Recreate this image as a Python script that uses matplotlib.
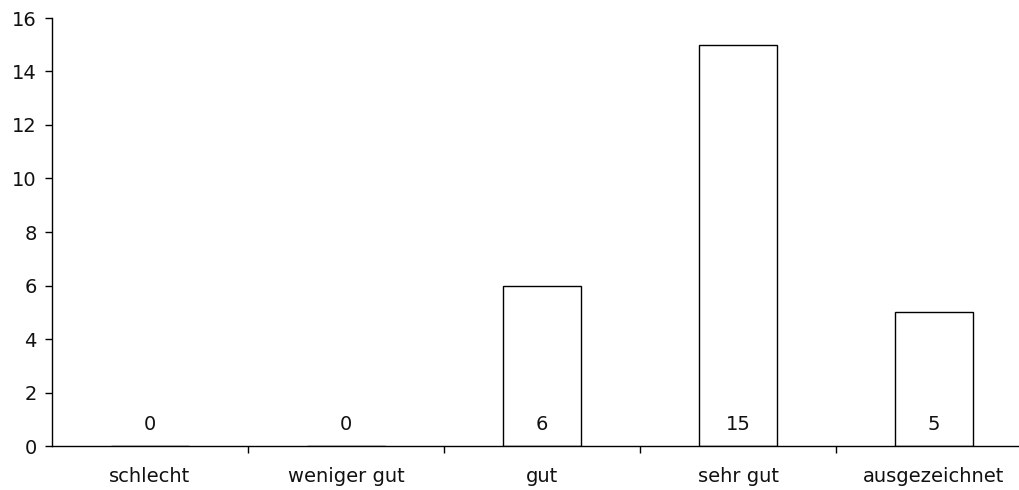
import matplotlib
matplotlib.use("Agg")
import matplotlib.pyplot as plt

categories = ["schlecht", "weniger gut", "gut", "sehr gut", "ausgezeichnet"]
values = [0, 0, 6, 15, 5]
yticks = [0, 2, 4, 6, 8, 10, 12, 14, 16]

plt.rcParams['font.family'] = ['DejaVu Sans']

W, H = 1019, 490
fig = plt.figure(figsize=(W/100, H/100), dpi=100)
left, right = 52, 1032
top, bottom = 18, 446
ax = fig.add_axes([left/W, (H-bottom)/H, (right-left)/W, (bottom-top)/H])

x = list(range(len(categories)))
ax.bar(x, values, width=0.4, color='white', edgecolor='black', linewidth=1.0)
for xi, v in zip(x, values):
    ax.annotate(str(v), (xi, 0), xytext=(0, 15.5), textcoords='offset points',
                ha='center', va='center', fontsize=14, color='#111111')

ax.set_xlim(-0.5, len(categories) - 0.5)
ax.set_ylim(0, 16)
ax.set_yticks(yticks)
ax.set_xticks(x)
ax.set_xticklabels(categories, fontsize=14, color='#111111')
ax.set_xticks([i + 0.5 for i in range(len(categories) - 1)], minor=True)
ax.tick_params(axis='x', which='major', length=0, pad=15)
ax.tick_params(axis='x', which='minor', length=5, direction='out', width=1)
ax.tick_params(axis='y', length=5, direction='out', width=1, labelsize=14, pad=6,
               labelcolor='#111111')
ax.spines['top'].set_visible(False)
ax.spines['right'].set_visible(False)
for s in ['left', 'bottom']:
    ax.spines[s].set_linewidth(1.0)

fig.savefig("out.png", dpi=100)
